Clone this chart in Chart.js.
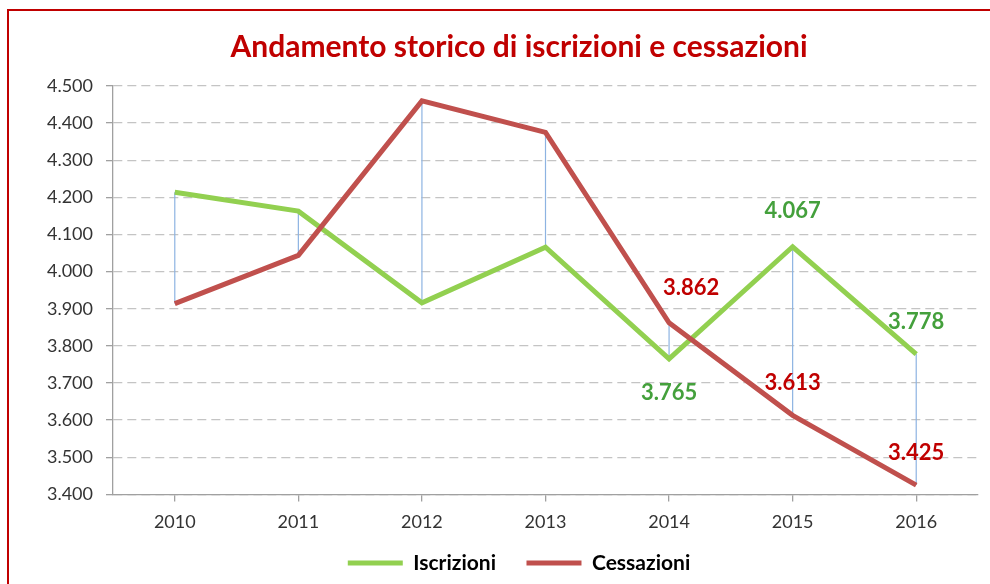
<!DOCTYPE html>
<html>
<head>
<meta charset="utf-8">
<title>Andamento storico di iscrizioni e cessazioni</title>
<script src="https://cdn.jsdelivr.net/npm/chart.js@4.4.0/dist/chart.umd.min.js"></script>
<style>
  html, body { margin: 0; padding: 0; background: #fff; overflow: hidden; }
  #wrap { position: relative; width: 990px; height: 584px; overflow: hidden; }
  #frame { position: absolute; left: 7px; top: 9px; width: 1010px; height: 600px; border: 2px solid #C00000; box-sizing: border-box; }
  #myChart { position: absolute; left: 0; top: 0; }
</style>
</head>
<body>
<div id="wrap">
  <div id="frame"></div>
  <canvas id="myChart" width="1000" height="584"></canvas>
</div>
<script>
const years = ['2010', '2011', '2012', '2013', '2014', '2015', '2016'];
const iscrizioni = [4214, 4163, 3916, 4066, 3765, 4067, 3778];
const cessazioni = [3914, 4044, 4460, 4375, 3862, 3613, 3425];
const yMin = 3400;
const yMax = 4500;
const yStep = 100;

// only the last years carry a value label
const labelFrom = 4;
// label offset from the point [dx, dy], one row per series
const labelOffsets = [
  [[0, 34], [0, -36], [0, -32]],
  [[22, -35], [0, -32], [0, -32]]
];
const labelColors = ['#44A03C', '#C00000'];

function fmt(v) {
    return String(v).replace(/\B(?=(\d{3})+(?!\d))/g, '.');
}

// thin blue high-low lines between the two series
const dropLines = {
    id: 'dropLines',
    beforeDatasetsDraw(chart) {
        const a = chart.getDatasetMeta(0).data;
        const b = chart.getDatasetMeta(1).data;
        const ctx = chart.ctx;
        ctx.save();
        ctx.strokeStyle = '#8DB3E2';
        ctx.lineWidth = 1.2;
        for (let i = 0; i < a.length; i++) {
            ctx.beginPath();
            ctx.moveTo(a[i].x, a[i].y);
            ctx.lineTo(b[i].x, b[i].y);
            ctx.stroke();
        }
        ctx.restore();
    }
};

const valueLabels = {
    id: 'valueLabels',
    afterDatasetsDraw(chart) {
        const ctx = chart.ctx;
        ctx.save();
        ctx.font = 'bold 22px Lato';
        ctx.textAlign = 'center';
        ctx.textBaseline = 'middle';
        chart.data.datasets.forEach((ds, d) => {
            const pts = chart.getDatasetMeta(d).data;
            ctx.fillStyle = labelColors[d];
            for (let i = labelFrom; i < ds.data.length; i++) {
                const off = labelOffsets[d][i - labelFrom];
                ctx.fillText(fmt(ds.data[i]), pts[i].x + off[0], pts[i].y + off[1]);
            }
        });
        ctx.restore();
    }
};

const ctx = document.getElementById('myChart');

new Chart(ctx, {
    type: 'line',
    data: {
        labels: years,
        datasets: [{
            label: 'Iscrizioni',
            data: iscrizioni,
            borderColor: '#92D050',
            backgroundColor: '#92D050',
            borderWidth: 5,
            pointRadius: 0,
            tension: 0,
            order: 1
        }, {
            label: 'Cessazioni',
            data: cessazioni,
            borderColor: '#C0504D',
            backgroundColor: '#C0504D',
            borderWidth: 5,
            pointRadius: 0,
            tension: 0,
            order: 0
        }]
    },
    options: {
        responsive: false,
        animation: false,
        layout: { padding: { left: 38, right: 0, top: 0, bottom: 0.5 } },
        scales: {
            x: {
                offset: true,
                grid: { drawOnChartArea: false, tickLength: 7, color: '#A0A0A0', lineWidth: 1.3 },
                border: { color: '#A0A0A0', width: 1.3 },
                ticks: { color: '#333', padding: 10, font: { family: 'Lato', size: 18 } }
            },
            y: {
                min: yMin,
                max: yMax,
                afterFit(scale) { scale.width = 75; },
                ticks: {
                    stepSize: yStep,
                    color: '#333',
                    padding: 13,
                    font: { family: 'Lato', size: 18 },
                    callback: (v) => fmt(v)
                },
                grid: {
                    color: '#C4C4C4',
                    lineWidth: 1.3,
                    tickLength: 7,
                    tickColor: '#A0A0A0',
                    tickBorderDash: []
                },
                border: { color: '#A0A0A0', width: 1.3, dash: [9, 5] }
            },
            // empty right margin, keeps title and legend centred like the original
            yRight: {
                position: 'right',
                afterFit(scale) { scale.width = 22; },
                grid: { display: false },
                border: { display: false },
                ticks: { display: false }
            }
        },
        plugins: {
            title: {
                display: true,
                text: 'Andamento storico di iscrizioni e cessazioni',
                color: '#C00000',
                font: { family: 'Lato', size: 30, weight: 'bold' },
                padding: { top: 29, bottom: 21 }
            },
            legend: {
                position: 'bottom',
                labels: {
                    usePointStyle: true,
                    pointStyle: 'line',
                    pointStyleWidth: 55,
                    padding: 9.5,
                    color: '#000',
                    font: { family: 'Lato', size: 21, weight: 'bold' },
                    sort: (a, b) => a.datasetIndex - b.datasetIndex,
                    generateLabels(chart) {
                        const items = Chart.defaults.plugins.legend.labels.generateLabels(chart);
                        items.forEach((it) => { if (it.datasetIndex === 0) it.text += '\u2003\u2005'; });
                        return items;
                    }
                }
            },
            tooltip: { enabled: false }
        }
    },
    plugins: [dropLines, valueLabels]
});
</script>
</body>
</html>
